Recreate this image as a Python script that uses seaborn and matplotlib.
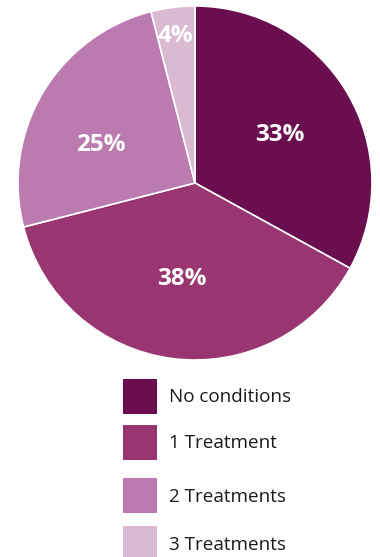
import numpy as np
import matplotlib
matplotlib.use("Agg")
import matplotlib.pyplot as plt
from matplotlib.patches import Rectangle
import seaborn as sns

# Share of records by number of treatments
categories = ["No conditions", "1 Treatment", "2 Treatments", "3 Treatments"]
shares = [33, 38, 25, 4]
colors = ["#6B0E4F", "#993571", "#BB7BAE", "#DAB9D3"]

sns.set_theme(style="white")
plt.rcParams["font.family"] = ["Open Sans", "DejaVu Sans"]
palette = sns.color_palette(colors)

W, H = 380, 557
fig = plt.figure(figsize=(W / 100, H / 100), dpi=100)
fig.patch.set_facecolor("white")

# Pie axes: centre (195, 183) px, radius 177 px
cx, cy, r = 195, 183, 177
ax = fig.add_axes([(cx - r) / W, (H - cy - r) / H, 2 * r / W, 2 * r / H])
wedges, _ = ax.pie(
    shares,
    colors=palette,
    startangle=90,
    counterclock=False,
    radius=1.0,
    wedgeprops=dict(edgecolor="white", linewidth=1.2),
)
ax.set_xlim(-1, 1)
ax.set_ylim(-1, 1)
ax.set_aspect("equal")
ax.axis("off")

# Percentage labels inside the wedges (radial distance, angular nudge in degrees)
label_place = [(0.55, -1.0), (0.55, -0.5), (0.575, 8.6), (0.837, 0.2)]
for w, val, (d, nudge) in zip(wedges, shares, label_place):
    ang = np.deg2rad((w.theta1 + w.theta2) / 2 + nudge)
    ax.text(d * np.cos(ang), d * np.sin(ang), f"{val}%", color="white",
            fontsize=17.5, fontweight="bold", ha="center", va="center")

# Legend drawn in pixel coordinates
lax = fig.add_axes([0, 0, 1, 1])
lax.set_xlim(0, W)
lax.set_ylim(H, 0)
lax.axis("off")
row_top = [379, 425, 478, 526]
for top, name, col in zip(row_top, categories, palette):
    lax.add_patch(Rectangle((123, top), 34, 35, facecolor=col, edgecolor="none"))
    lax.text(169, top + 18.5, name, fontsize=13.6, color="#1a1a1a",
             ha="left", va="center")

fig.savefig("out.png", dpi=100, facecolor="white")
